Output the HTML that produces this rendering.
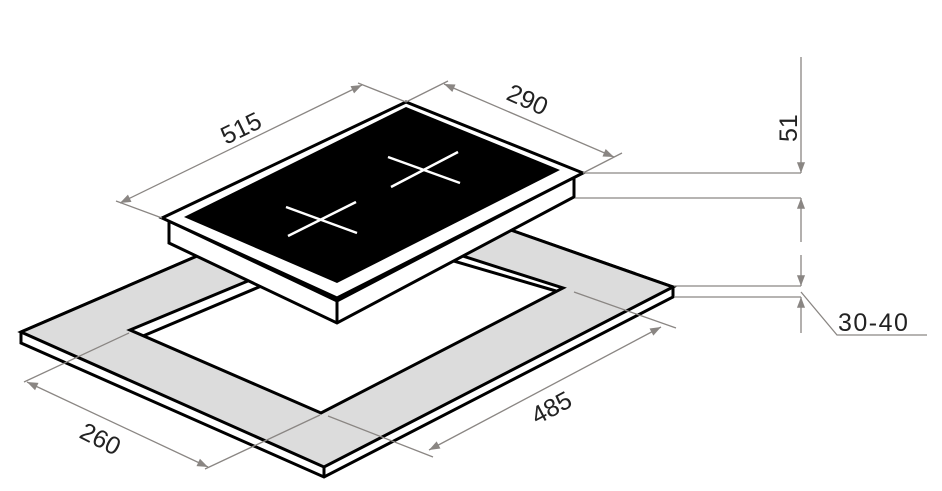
<!DOCTYPE html>
<html><head><style>body{margin:0;background:#fff}svg{display:block}</style></head>
<body>
<svg width="942" height="491" viewBox="0 0 942 491" xmlns="http://www.w3.org/2000/svg">
<defs>
<marker id="a" viewBox="0 0 12 10" refX="12" refY="5" markerWidth="12" markerHeight="9" orient="auto-start-reverse" markerUnits="userSpaceOnUse"><path d="M0,0.5 L12,5 L0,9.5 z" fill="#8a8683"/></marker>
</defs>
<polygon points="21,332 371,181 673,287 673,297 324,477 21,343" fill="#fff" stroke="#000" stroke-width="3" stroke-linejoin="miter"/>
<polygon points="21,332 371,181 673,287 324,467" fill="#dcdcdc" stroke="#000" stroke-width="3"/>
<line x1="324" y1="467" x2="324" y2="477" stroke="#000" stroke-width="3"/>
<polygon points="130,330 375,228 563,288 321,413" fill="#fff" stroke="#000" stroke-width="3"/>
<polyline points="143,336 375,238 556,291" fill="none" stroke="#000" stroke-width="3"/>
<polygon points="169,221 337,301 574,177 574,197 337,323 169,243" fill="#fff" stroke="#000" stroke-width="3"/>
<line x1="337" y1="301" x2="337" y2="323" stroke="#000" stroke-width="3"/>
<polygon points="162,218 406,102 583,173 337,298" fill="#fff" stroke="#000" stroke-width="3"/>
<polygon points="184,217 406,107 560,170 337,283" fill="#000"/>
<g stroke="#fff" stroke-width="2.5">
<line x1="388" y1="157" x2="460" y2="183"/><line x1="391" y1="187" x2="458" y2="152"/>
<line x1="286" y1="207" x2="357" y2="233"/><line x1="288" y1="236" x2="356" y2="202"/>
</g>
<g stroke="#8a8683" stroke-width="1.3" fill="none">
<line x1="162" y1="218" x2="116" y2="201"/><line x1="406" y1="102" x2="358" y2="83"/>
<line x1="120" y1="203" x2="362" y2="85" marker-start="url(#a)" marker-end="url(#a)"/>
<line x1="406" y1="102" x2="448" y2="81"/><line x1="583" y1="173" x2="622" y2="153"/>
<line x1="444" y1="84" x2="614" y2="157" marker-start="url(#a)" marker-end="url(#a)"/>
<line x1="583" y1="173" x2="801" y2="173"/><line x1="575" y1="198" x2="801" y2="198"/>
<line x1="801" y1="57" x2="801" y2="173" marker-end="url(#a)"/>
<line x1="801" y1="242" x2="801" y2="198" marker-end="url(#a)"/>
<line x1="674" y1="286" x2="801" y2="286"/><line x1="674" y1="297" x2="801" y2="297"/>
<line x1="801" y1="255" x2="801" y2="286" marker-end="url(#a)"/>
<line x1="801" y1="333" x2="801" y2="297" marker-end="url(#a)"/>
<polyline points="801,292 837,335 927,335"/>
<line x1="574" y1="292" x2="676" y2="328"/><line x1="328" y1="416" x2="433" y2="457"/>
<line x1="661" y1="327" x2="429" y2="450" marker-start="url(#a)" marker-end="url(#a)"/>
<line x1="129" y1="333" x2="24" y2="382"/><line x1="320" y1="415" x2="205" y2="469"/>
<line x1="27" y1="382" x2="208" y2="467" marker-start="url(#a)" marker-end="url(#a)"/>
</g>
<g font-family="Liberation Sans, sans-serif" font-size="25" fill="#222">
<text transform="translate(226,145) rotate(-26)">515</text>
<text transform="translate(505,99) rotate(24)">290</text>
<text transform="translate(797,142) rotate(-90)">51</text>
<text x="838" y="331" letter-spacing="1.5">30-40</text>
<text transform="translate(537,425) rotate(-28)">485</text>
<text transform="translate(78,437) rotate(27)">260</text>
</g>
</svg>
</body></html>
